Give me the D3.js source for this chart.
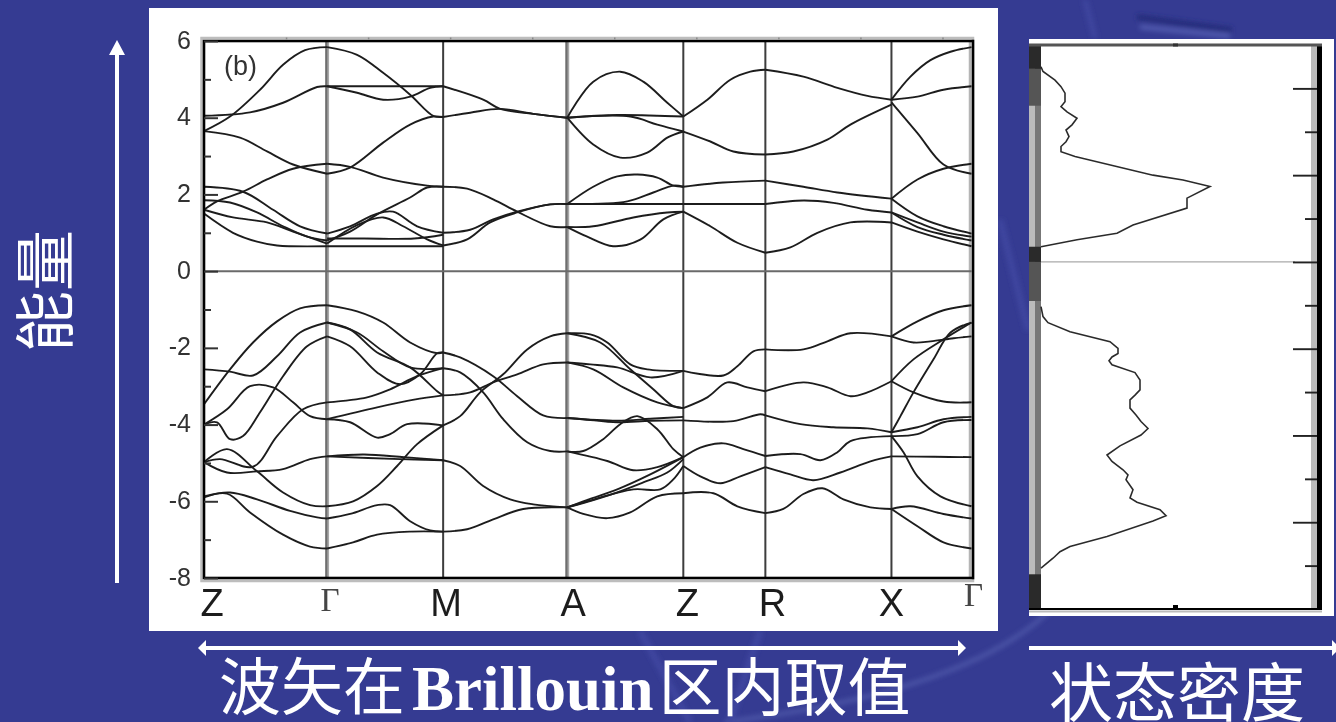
<!DOCTYPE html>
<html>
<head>
<meta charset="utf-8">
<style>
  html, body { margin: 0; padding: 0; background: #353b92; overflow: hidden; }
  svg { display: block; }
</style>
<script src="https://cdn.jsdelivr.net/npm/d3@7"></script>
</head>
<body>
<div id="chart"></div>
<script>

// k path, high symmetry points
const kPoints = [0, 1.23, 2.39, 3.63, 4.79, 5.61, 6.87, 7.67];
const kLabels = ["Z", "Γ", "M", "A", "Z", "R", "X", "Γ"];
const kGreyLines = [1.23, 3.63];
const kDarkLines = [2.39, 4.79, 5.61, 6.87];

const energyTicks = [6, 4, 2, 0, -2, -4, -6, -8];
const energyMinorTicks = [5, 3, 1, -1, -3, -5, -7];
const topMinorTicks = [.82, 1.64, 2.46, 3.28, 4.1, 4.92, 5.74, 6.56, 7.38];

// bands, [k, E], one list for each part of the path
const bandsZGamma = [
  [[0,3.65],[.26,4.03],[.56,4.73],[.79,5.38],[1.01,5.76],[1.23,5.84]],
  [[0,4.05],[.46,4.14],[.79,4.39],[1.13,4.8],[1.23,4.82]],
  [[0,3.65],[.36,3.48],[.63,3.12],[.89,2.78],[1.23,2.54]],
  [[0,1.6],[.13,1.82],[.39,2.07],[.63,2.39],[.89,2.67],[1.23,2.8]],
  [[0,2.2],[.39,2.07],[.69,1.6],[.96,1.17],[1.23,.98]],
  [[0,1.6],[.29,1.4],[.63,1.27],[.89,1.03],[1.23,.72]],
  [[0,1.85],[.26,1.79],[.53,1.53],[.79,1.17],[1.03,.9],[1.23,.8]],
  [[0,1.5],[.29,1],[.53,.77],[.73,.67],[1.23,.65]],
  [[0,-3.47],[.26,-2.56],[.49,-1.86],[.73,-1.31],[.96,-.97],[1.23,-.89]],
  [[0,-2.56],[.26,-2.62],[.49,-2.72],[.73,-2.22],[.96,-1.6],[1.23,-1.34]],
  [[0,-4],[.13,-3.94],[.26,-4.38],[.39,-4.3],[.56,-3.68],[.79,-2.74],[1.03,-1.96],[1.23,-1.7]],
  [[0,-4],[.23,-3.6],[.46,-3],[.69,-3.03],[.89,-3.42],[1.06,-3.78],[1.23,-3.86]],
  [[0,-4.98],[.23,-4.64],[.53,-5.22],[.79,-5.77],[1.06,-6.1],[1.23,-6.13]],
  [[0,-4.98],[.23,-5.25],[.53,-5.22],[.79,-5.16],[1.06,-4.9],[1.23,-4.83]],
  [[0,-4.98],[.16,-4.9],[.49,-5.1],[.73,-4.3],[.99,-3.6],[1.23,-3.42]],
  [[0,-5.87],[.26,-5.77],[.53,-5.95],[.86,-6.25],[1.13,-6.42],[1.23,-6.45]],
  [[0,-5.9],[.23,-5.8],[.46,-6.29],[.79,-6.87],[1.06,-7.18],[1.23,-7.23]]
];

const bandsGammaM = [
  [[1.23,5.84],[1.53,5.64],[1.79,5.17],[2.06,4.6],[2.29,4.05],[2.39,4.02]],
  [[1.23,4.82],[1.8,4.82],[2.39,4.82]],
  [[1.23,4.82],[1.53,4.65],[1.79,4.47],[2.06,4.55],[2.26,4.78],[2.39,4.82]],
  [[1.23,2.54],[1.46,2.7],[1.79,3.35],[2.06,3.82],[2.29,4.03],[2.39,4.02]],
  [[1.23,2.8],[1.46,2.72],[1.79,2.44],[2.23,2.23],[2.39,2.2]],
  [[1.23,.98],[1.46,1.17],[1.73,1.5],[1.89,1.55],[2.13,1.17],[2.39,1]],
  [[1.23,.8],[1.46,1.03],[1.73,1.48],[2.06,1.92],[2.23,2.18],[2.39,2.2]],
  [[1.23,.72],[1.53,1.2],[1.79,1.4],[1.99,1.17],[2.23,.83],[2.39,.67]],
  [[1.23,.65],[1.8,.65],[2.39,.65]],
  [[1.23,.85],[1.6,.85],[2.1,.85],[2.39,.95]],
  [[1.23,-.89],[1.53,-1.05],[1.79,-1.34],[2.06,-1.86],[2.33,-2.14],[2.39,-2.12]],
  [[1.23,-1.34],[1.53,-1.6],[1.79,-2.09],[2.06,-2.51],[2.39,-2.53]],
  [[1.23,-1.34],[1.46,-1.52],[1.73,-2.12],[2.06,-2.51],[2.33,-3.13],[2.39,-3.24]],
  [[1.23,-1.7],[1.46,-1.96],[1.73,-2.64],[1.96,-2.95],[2.16,-2.69],[2.33,-2.14],[2.39,-2.12]],
  [[1.23,-3.42],[1.63,-3.29],[1.86,-3.08],[2.13,-2.74],[2.39,-2.53]],
  [[1.23,-3.86],[1.46,-3.94],[1.73,-4.34],[1.86,-4.25],[2.03,-3.99],[2.39,-4.02]],
  [[1.23,-3.86],[1.73,-3.55],[2.1,-3.35],[2.39,-3.24]],
  [[1.23,-6.13],[1.49,-6],[1.73,-5.6],[1.93,-5.08],[2.13,-4.51],[2.39,-4.02]],
  [[1.23,-4.83],[1.96,-4.9],[2.39,-4.93]],
  [[1.23,-4.83],[1.6,-4.78],[2,-4.85],[2.39,-4.93]],
  [[1.23,-6.45],[1.46,-6.33],[1.73,-6.1],[1.86,-6.1],[2.06,-6.52],[2.26,-6.76],[2.39,-6.79]],
  [[1.23,-7.23],[1.49,-7.07],[1.73,-6.87],[2.06,-6.79],[2.39,-6.79]]
];

const bandsMA = [
  [[2.39,4.02],[2.66,4.13],[2.96,4.23],[3.29,4.1],[3.63,4]],
  [[2.39,4.82],[2.79,4.47],[2.96,4.23],[3.29,4.1],[3.63,4]],
  [[2.39,2.2],[2.63,2.15],[2.89,1.87],[3.13,1.55],[3.46,1.17],[3.63,1.15]],
  [[2.39,.67],[2.63,.83],[2.86,1.27],[3.13,1.53],[3.46,1.74],[3.63,1.75]],
  [[2.39,1],[2.66,1.08],[2.89,1.35],[3.13,1.55],[3.46,1.74],[3.63,1.75]],
  [[2.39,-2.12],[2.56,-2.25],[2.89,-2.74],[3.13,-3.26],[3.39,-3.76],[3.63,-3.83]],
  [[2.39,-2.53],[2.56,-2.64],[2.79,-3.16],[2.99,-3.86],[3.23,-4.46],[3.46,-4.69],[3.63,-4.7]],
  [[2.39,-3.24],[2.66,-3.16],[2.89,-2.9],[3.13,-2.69],[3.39,-2.43],[3.63,-2.38]],
  [[2.39,-4.02],[2.56,-3.78],[2.76,-3.16],[2.99,-2.69],[3.23,-2.04],[3.46,-1.7],[3.63,-1.62]],
  [[2.39,-4.93],[2.56,-5.08],[2.79,-5.6],[3.06,-5.95],[3.29,-6.08],[3.63,-6.16]],
  [[2.39,-6.79],[2.63,-6.73],[2.89,-6.47],[3.19,-6.2],[3.63,-6.16]]
];

const bandsAZ = [
  [[3.63,4],[3.89,4.94],[4.16,5.2],[4.39,4.94],[4.63,4.39],[4.79,4.03]],
  [[3.63,4],[3.89,3.3],[4.16,2.96],[4.43,3.09],[4.63,3.48],[4.79,3.64]],
  [[3.63,4],[4.13,4.07],[4.79,4.03]],
  [[3.63,4],[4.26,4.03],[4.53,3.82],[4.79,3.64]],
  [[3.63,1.75],[3.89,2.2],[4.13,2.47],[4.33,2.52],[4.53,2.44],[4.69,2.23],[4.79,2.2]],
  [[3.63,1.75],[4.23,1.82],[4.49,2.05],[4.69,2.23],[4.79,2.2]],
  [[3.63,1.75],[4.2,1.75],[4.79,1.75]],
  [[3.63,1.15],[3.89,1.17],[4.29,1.4],[4.63,1.53],[4.79,1.55]],
  [[3.63,1.15],[3.83,.9],[4.09,.65],[4.36,.82],[4.59,1.35],[4.79,1.55]],
  [[3.63,-1.62],[3.86,-1.65],[4.03,-1.86],[4.26,-2.43],[4.43,-2.56],[4.79,-2.6]],
  [[3.63,-1.62],[3.96,-1.86],[4.26,-2.56],[4.49,-3.08],[4.69,-3.52],[4.79,-3.57]],
  [[3.63,-2.38],[3.86,-2.43],[4.13,-2.51],[4.46,-2.77],[4.79,-2.6]],
  [[3.63,-2.38],[3.89,-2.56],[4.19,-3.03],[4.53,-3.42],[4.79,-3.57]],
  [[3.63,-3.83],[3.79,-3.86],[4.13,-3.94],[4.46,-3.9],[4.79,-3.89]],
  [[3.63,-3.83],[4.13,-3.9],[4.46,-3.85],[4.79,-3.8]],
  [[3.63,-4.7],[3.79,-4.69],[3.99,-4.38],[4.16,-3.99],[4.33,-3.78],[4.53,-4.12],[4.69,-4.64],[4.79,-4.85]],
  [[3.63,-4.7],[4.03,-4.95],[4.29,-5.19],[4.53,-5.11],[4.79,-4.85]],
  [[3.63,-6.16],[3.79,-6.05],[4.13,-5.77],[4.39,-5.51],[4.63,-5.25],[4.79,-4.9]],
  [[3.63,-6.16],[3.79,-6],[4.13,-5.69],[4.46,-5.3],[4.79,-4.85]],
  [[3.63,-6.16],[3.83,-6],[4.29,-5.69],[4.56,-5.69],[4.69,-5.43],[4.79,-5.08]],
  [[3.63,-6.16],[3.79,-6.33],[4.03,-6.44],[4.26,-6.29],[4.53,-5.87],[4.79,-5.79]]
];

const bandsZR = [
  [[4.79,4.03],[5.03,4.47],[5.26,4.99],[5.46,5.2],[5.61,5.25]],
  [[4.79,3.64],[5.06,3.38],[5.29,3.12],[5.61,3.04]],
  [[4.79,2.2],[5.19,2.31],[5.61,2.36]],
  [[4.79,1.75],[5.2,1.75],[5.61,1.75]],
  [[4.79,1.55],[5.06,1.17],[5.33,.74],[5.61,.48]],
  [[4.79,-2.6],[5.19,-2.72],[5.33,-2.48],[5.49,-2.09],[5.61,-2.04]],
  [[4.79,-3.57],[5.03,-3.29],[5.23,-2.9],[5.43,-3.03],[5.61,-3.13]],
  [[4.79,-3.89],[5.29,-3.91],[5.56,-3.73],[5.61,-3.76]],
  [[4.79,-4.85],[4.96,-4.6],[5.19,-4.49],[5.39,-4.64],[5.61,-4.82]],
  [[4.79,-5.08],[4.96,-5.35],[5.16,-5.53],[5.36,-5.35],[5.61,-5.11]],
  [[4.79,-5.79],[5.09,-5.79],[5.33,-6.13],[5.61,-6.31]]
];

const bandsRX = [
  [[5.61,5.25],[5.99,5.07],[6.33,4.78],[6.63,4.57],[6.87,4.47]],
  [[5.61,3.04],[5.89,3.12],[6.23,3.43],[6.46,3.82],[6.87,4.34]],
  [[5.61,2.36],[5.99,2.2],[6.33,2.05],[6.87,1.89]],
  [[5.61,1.75],[5.99,1.84],[6.29,1.78],[6.63,1.6],[6.87,1.53]],
  [[5.61,.48],[5.86,.62],[6.13,1],[6.46,1.27],[6.87,1.27]],
  [[5.61,-2.04],[5.99,-2.04],[6.23,-1.83],[6.46,-1.62],[6.87,-1.7]],
  [[5.61,-3.13],[5.99,-2.9],[6.23,-3.03],[6.46,-3.26],[6.63,-3.16],[6.87,-2.87]],
  [[5.61,-3.76],[5.96,-3.99],[6.29,-4.07],[6.63,-4.1],[6.87,-4.2]],
  [[5.61,-4.82],[5.96,-4.77],[6.16,-4.93],[6.33,-4.72],[6.46,-4.43],[6.87,-4.3]],
  [[5.61,-5.11],[5.86,-5.3],[6.09,-5.45],[6.36,-5.25],[6.66,-4.96],[6.87,-4.83]],
  [[5.61,-6.31],[5.79,-6.2],[5.99,-5.81],[6.18,-5.66],[6.39,-5.95],[6.66,-6.16],[6.87,-6.2]]
];

const bandsXGamma = [
  [[6.87,4.47],[7.06,5.07],[7.26,5.5],[7.46,5.72],[7.67,5.84]],
  [[6.87,4.47],[7.13,4.55],[7.39,4.73],[7.67,4.82]],
  [[6.87,4.4],[7.13,3.6],[7.39,2.78],[7.67,2.54]],
  [[6.87,1.89],[7.13,2.39],[7.39,2.67],[7.67,2.8]],
  [[6.87,1.89],[7.13,1.43],[7.39,1.17],[7.67,.98]],
  [[6.87,1.53],[7.13,1.27],[7.39,1.03],[7.67,.9]],
  [[6.87,1.53],[7.13,1.15],[7.39,.95],[7.67,.8]],
  [[6.87,1.27],[7.13,1.03],[7.39,.83],[7.67,.65]],
  [[6.87,-1.7],[7.13,-1.31],[7.39,-1.02],[7.67,-.89]],
  [[6.87,-1.7],[7.09,-1.86],[7.26,-1.83],[7.49,-1.75],[7.67,-1.7]],
  [[6.87,-2.87],[7.09,-2.3],[7.39,-1.78],[7.67,-1.34]],
  [[6.87,-2.87],[7.09,-3.16],[7.39,-3.4],[7.67,-3.42]],
  [[6.87,-4.2],[6.96,-3.78],[7.09,-3.16],[7.29,-2.3],[7.46,-1.6],[7.67,-1.34]],
  [[6.87,-4.2],[7.13,-4.07],[7.39,-3.86],[7.67,-3.8]],
  [[6.87,-4.3],[7.13,-4.25],[7.39,-3.94],[7.67,-3.88]],
  [[6.87,-4.83],[7.3,-4.84],[7.67,-4.85]],
  [[6.87,-4.3],[6.99,-4.72],[7.13,-5.35],[7.36,-5.87],[7.67,-6.13]],
  [[6.87,-6.2],[7.06,-6.13],[7.39,-6.33],[7.67,-6.45]],
  [[6.87,-6.2],[7.13,-6.65],[7.39,-7.07],[7.67,-7.23]]
];

// density of states, [D, E]
const dosUpper = [
  [0,4.5],[.02,4.39],[.14,4.19],[.2,4.04],[.24,3.89],[.24,3.69],[.2,3.58],[.26,3.46],[.36,3.31],
  [.31,3.16],[.25,3.04],[.28,2.89],[.25,2.77],[.2,2.66],[.2,2.54],[.34,2.43],[1.12,2],[1.42,1.89],
  [1.69,1.74],[1.46,1.47],[1.46,1.24],[.92,.85],[.76,.66],[.36,.51],[0,.35]
];
const dosLower = [
  [0,-1.03],[.02,-1.26],[.07,-1.4],[.29,-1.61],[.69,-1.84],[.77,-1.99],[.77,-2.11],[.71,-2.19],
  [.68,-2.28],[.71,-2.37],[.94,-2.55],[.99,-2.72],[.99,-2.95],[.94,-3.07],[.89,-3.18],[.89,-3.37],
  [.95,-3.53],[1,-3.68],[1.07,-3.84],[1,-3.99],[.79,-4.24],[.66,-4.45],[.71,-4.6],[.82,-4.79],
  [.87,-4.91],[.85,-5.02],[.92,-5.25],[.89,-5.44],[.96,-5.54],[1.19,-5.71],[1.25,-5.85],[1.12,-5.97],
  [.66,-6.33],[.29,-6.56],[.19,-6.68],[.12,-6.83],[0,-7.06]
];
const dosMajorTicks = [4, 2, 0, -2, -4, -6];
const dosMinorTicks = [3, 1, -1, -3, -5, -7];
const dosFlatDark = [[5, 4.45], [.35, 0], [-7.2, -8]];
const dosFlatMid = [[4.45, 3.6], [0, -.9]];

const xLabel = ["波矢在", "Brillouin", "区内取值"];
const dosLabel = "状态密度";
const yLabel = "能量";

const fontSans = "'Liberation Sans', Arial, sans-serif";
const fontCjk = "'Noto Sans CJK SC', sans-serif";


var svg = d3.select("#chart").append("svg")
  .attr("width", 1336)
  .attr("height", 722);

var defs = svg.append("defs");
defs.append("filter").attr("id", "soft")
  .append("feGaussianBlur").attr("stdDeviation", 0.45);
defs.append("filter").attr("id", "wide")
  .append("feGaussianBlur").attr("stdDeviation", 2.5);


//--------------------------------------
// BACKGROUND
//--------------------------------------

var bg = svg.append("g");
bg.append("rect").attr("width", 1336).attr("height", 722).attr("fill", "#353b92");

// faint watermark of the slide behind the chart
var wm = bg.append("g").attr("filter", "url(#wide)").attr("fill", "none");
wm.append("path").attr("d", "M1060,600Q980,690 725,722").attr("stroke", "#4e57a8").attr("stroke-width", 4);
wm.append("path").attr("d", "M640,631L690,722").attr("stroke", "#3f46a0").attr("stroke-width", 6);
wm.append("path").attr("d", "M760,631L730,722").attr("stroke", "#3f46a0").attr("stroke-width", 6);
wm.append("path").attr("d", "M1137,17L1232,30").attr("stroke", "#232a78").attr("stroke-width", 5);
wm.append("path").attr("d", "M1140,27L1230,36").attr("stroke", "#5660b4").attr("stroke-width", 4);
wm.append("path").attr("d", "M1085,0L1095,38").attr("stroke", "#3f46a0").attr("stroke-width", 5);
wm.append("path").attr("d", "M1000,220L1028,330").attr("stroke", "#3f46a0").attr("stroke-width", 6);

bg.append("rect").attr("x", 149).attr("y", 8).attr("width", 849).attr("height", 623).attr("fill", "#fff");
bg.append("rect").attr("x", 1029).attr("y", 39).attr("width", 305).attr("height", 577).attr("fill", "#fff");


//--------------------------------------
// BAND STRUCTURE
//--------------------------------------

var kScale = d3.scaleLinear().domain([0, 7.67]).range([204, 971.5]);
var eScale = d3.scaleLinear().domain([-8, 6]).range([578, 41]);

var plot = svg.append("g").attr("filter", "url(#soft)");

// light strip round the frame
plot.append("rect")
  .attr("x", 201.5).attr("y", 38)
  .attr("width", 771.5).attr("height", 543)
  .attr("fill", "none").attr("stroke", "#bdbdbd").attr("stroke-width", 2.5);

plot.selectAll(".kGrey").data(kGreyLines).enter().append("line")
  .attr("x1", function (d) { return kScale(d); })
  .attr("x2", function (d) { return kScale(d); })
  .attr("y1", eScale(6)).attr("y2", eScale(-8))
  .attr("stroke", "#a8a8a8").attr("stroke-width", 4);

plot.selectAll(".kGreyCore").data(kGreyLines).enter().append("line")
  .attr("x1", function (d) { return kScale(d) - 0.7; })
  .attr("x2", function (d) { return kScale(d) - 0.7; })
  .attr("y1", eScale(6)).attr("y2", eScale(-8))
  .attr("stroke", "#6e6e6e").attr("stroke-width", 2);

plot.selectAll(".kDark").data(kDarkLines).enter().append("line")
  .attr("x1", function (d) { return kScale(d); })
  .attr("x2", function (d) { return kScale(d); })
  .attr("y1", eScale(6)).attr("y2", eScale(-8))
  .attr("stroke", "#3c3c3c").attr("stroke-width", 2);

// last line of the path, only a light strip inside the frame
plot.append("line")
  .attr("x1", kScale(7.67) - 1.5).attr("x2", kScale(7.67) - 1.5)
  .attr("y1", eScale(6)).attr("y2", eScale(-8))
  .attr("stroke", "#b5b5b5").attr("stroke-width", 2.5);

plot.append("line")
  .attr("x1", kScale(0)).attr("x2", kScale(7.67))
  .attr("y1", eScale(0)).attr("y2", eScale(0))
  .attr("stroke", "#6a6a6a").attr("stroke-width", 2);

var bandLine = d3.line()
  .x(function (d) { return kScale(d[0]); })
  .y(function (d) { return eScale(d[1]); })
  .curve(d3.curveCatmullRom.alpha(0.5));

var allBands = [bandsZGamma, bandsGammaM, bandsMA, bandsAZ, bandsZR, bandsRX, bandsXGamma];

allBands.forEach(function (bands) {
  plot.append("g").selectAll("path").data(bands).enter().append("path")
    .attr("d", bandLine)
    .attr("fill", "none")
    .attr("stroke", "#1e1e1e")
    .attr("stroke-width", 1.9);
});

// frame
plot.append("rect")
  .attr("x", kScale(0)).attr("y", eScale(6))
  .attr("width", 769).attr("height", eScale(-8) - eScale(6))
  .attr("fill", "none").attr("stroke", "#000").attr("stroke-width", 2.6);

var yAxis = d3.axisLeft(eScale).tickValues(energyTicks).tickSize(-14).tickPadding(13)
  .tickFormat(d3.format("d"));
var yAxisG = plot.append("g").attr("transform", "translate(204,0)").call(yAxis);
yAxisG.select(".domain").remove();
yAxisG.selectAll("line").attr("stroke", "#333").attr("stroke-width", 2);
yAxisG.selectAll("text")
  .attr("font-family", fontSans).attr("font-size", 25).attr("fill", "#333")
  .attr("dy", "0.28em")
  .text(function (d) { return String(d); });

var yMinor = d3.axisLeft(eScale).tickValues(energyMinorTicks).tickSize(-7).tickFormat("");
var yMinorG = plot.append("g").attr("transform", "translate(204,0)").call(yMinor);
yMinorG.select(".domain").remove();
yMinorG.selectAll("line").attr("stroke", "#333").attr("stroke-width", 2);

var topMinor = d3.axisTop(kScale).tickValues(topMinorTicks).tickSize(2).tickFormat("");
var topMinorG = plot.append("g").attr("transform", "translate(0,39.5)").call(topMinor);
topMinorG.select(".domain").remove();
topMinorG.selectAll("line").attr("stroke", "#888").attr("stroke-width", 1.5);

// k labels, the reference sets them a little to the right of their lines
var kLabelNudge = [8, 3, 3, 6, 4, 7, 0, 2];
var kLabelG = plot.append("g");
kLabelG.selectAll("text").data(kLabels).enter().append("text")
  .attr("x", function (d, i) { return kScale(kPoints[i]) + kLabelNudge[i]; })
  .attr("y", function (d, i) { return d === "Γ" ? (i === 1 ? 611 : 606) : 616; })
  .attr("text-anchor", "middle")
  .attr("font-family", function (d) { return d === "Γ" ? "'Liberation Serif', serif" : fontSans; })
  .attr("font-size", function (d) { return d === "Γ" ? 33 : 38; })
  .attr("fill", function (d) { return d === "Γ" ? "#444" : "#1c1c1c"; })
  .text(function (d) { return d; });

plot.append("text")
  .attr("x", 224).attr("y", 75)
  .attr("font-family", fontSans).attr("font-size", 27).attr("fill", "#333")
  .text("(b)");


//--------------------------------------
// DENSITY OF STATES
//--------------------------------------

var dScale = d3.scaleLinear().domain([0, 1]).range([1041, 1141]);
var dosE = d3.scaleLinear().domain([-8, 5]).range([609, 45]);

var dos = svg.append("g").attr("filter", "url(#soft)");

dos.append("rect").attr("x", 1029).attr("y", dosE(5)).attr("width", 6).attr("height", dosE(-8) - dosE(5)).attr("fill", "#bbb");
dos.append("rect").attr("x", 1035).attr("y", dosE(5)).attr("width", 6).attr("height", dosE(-8) - dosE(5)).attr("fill", "#777");

dos.selectAll(".flatMid").data(dosFlatMid).enter().append("rect")
  .attr("x", 1029).attr("width", 12)
  .attr("y", function (d) { return dosE(d[0]); })
  .attr("height", function (d) { return dosE(d[1]) - dosE(d[0]); })
  .attr("fill", "#555");

dos.selectAll(".flatDark").data(dosFlatDark).enter().append("rect")
  .attr("x", 1029).attr("width", 12)
  .attr("y", function (d) { return dosE(d[0]); })
  .attr("height", function (d) { return dosE(d[1]) - dosE(d[0]); })
  .attr("fill", "#2a2a2a");

dos.append("rect").attr("x", 1311).attr("y", dosE(5)).attr("width", 6).attr("height", dosE(-8) - dosE(5)).attr("fill", "#bbb");
dos.append("rect").attr("x", 1317).attr("y", dosE(5)).attr("width", 5).attr("height", dosE(-8) - dosE(5) + 1).attr("fill", "#000");

dos.append("line").attr("x1", 1029).attr("x2", 1322).attr("y1", dosE(5)).attr("y2", dosE(5))
  .attr("stroke", "#555").attr("stroke-width", 3);
dos.append("line").attr("x1", 1029).attr("x2", 1322).attr("y1", dosE(-8)).attr("y2", dosE(-8))
  .attr("stroke", "#000").attr("stroke-width", 2);
dos.append("line").attr("x1", 1029).attr("x2", 1322).attr("y1", dosE(-8) + 2.5).attr("y2", dosE(-8) + 2.5)
  .attr("stroke", "#bbb").attr("stroke-width", 2);
dos.append("rect").attr("x", 1173).attr("y", dosE(-8) - 4).attr("width", 5).attr("height", 4).attr("fill", "#000");
dos.append("rect").attr("x", 1173).attr("y", dosE(5) - 1.5).attr("width", 5).attr("height", 3).attr("fill", "#333");

dos.append("line").attr("x1", 1041).attr("x2", 1295).attr("y1", dosE(0)).attr("y2", dosE(0))
  .attr("stroke", "#aaa").attr("stroke-width", 1.2);

var dosMajor = d3.axisRight(dosE).tickValues(dosMajorTicks).tickSize(-24).tickFormat("");
var dosMajorG = dos.append("g").attr("transform", "translate(1317,0)").call(dosMajor);
dosMajorG.select(".domain").remove();
dosMajorG.selectAll("line").attr("stroke", "#222").attr("stroke-width", 1.9);

var dosMinor = d3.axisRight(dosE).tickValues(dosMinorTicks).tickSize(-12).tickFormat("");
var dosMinorG = dos.append("g").attr("transform", "translate(1317,0)").call(dosMinor);
dosMinorG.select(".domain").remove();
dosMinorG.selectAll("line").attr("stroke", "#222").attr("stroke-width", 1.9);

var dosLine = d3.line()
  .x(function (d) { return dScale(d[0]); })
  .y(function (d) { return dosE(d[1]); });

[dosUpper, dosLower].forEach(function (part) {
  dos.append("path")
    .attr("d", dosLine(part))
    .attr("fill", "none")
    .attr("stroke", "#2c2c2c")
    .attr("stroke-width", 1.6);
});


//--------------------------------------
// ARROWS AND LABELS
//--------------------------------------

var notes = svg.append("g");

notes.append("path")
  .attr("d", "M117,583V50")
  .attr("stroke", "#fff").attr("stroke-width", 4).attr("fill", "none");
notes.append("path").attr("d", "M117,40L125,55H109Z").attr("fill", "#fff");

notes.append("path")
  .attr("d", "M204,648H960")
  .attr("stroke", "#fff").attr("stroke-width", 4).attr("fill", "none");
notes.append("path").attr("d", "M198,648L206,640V656Z").attr("fill", "#fff");
notes.append("path").attr("d", "M966,648L958,640V656Z").attr("fill", "#fff");

notes.append("path")
  .attr("d", "M1029,648H1336")
  .attr("stroke", "#fff").attr("stroke-width", 4).attr("fill", "none");
notes.append("path").attr("d", "M1340,648L1332,640V656Z").attr("fill", "#fff");

var xText = notes.append("text")
  .attr("x", 219).attr("y", 710)
  .attr("fill", "#fff").attr("font-size", 62).attr("font-family", fontCjk).attr("font-weight", 400);
xText.append("tspan").text(xLabel[0]);
xText.append("tspan")
  .attr("font-family", "'Liberation Serif', serif").attr("font-weight", 700).attr("font-size", 63)
  .attr("dx", 7)
  .text(xLabel[1]);
xText.append("tspan").attr("dx", 5).attr("font-size", 63).text(xLabel[2]);

notes.append("text")
  .attr("x", 1049).attr("y", 716)
  .attr("fill", "#fff").attr("font-size", 64).attr("font-family", fontCjk).attr("font-weight", 400)
  .text(dosLabel);

notes.append("text")
  .attr("transform", "translate(68,352) rotate(-90)")
  .attr("fill", "#fff").attr("font-size", 61).attr("font-family", fontCjk).attr("font-weight", 400)
  .text(yLabel);

</script>
</body>
</html>
